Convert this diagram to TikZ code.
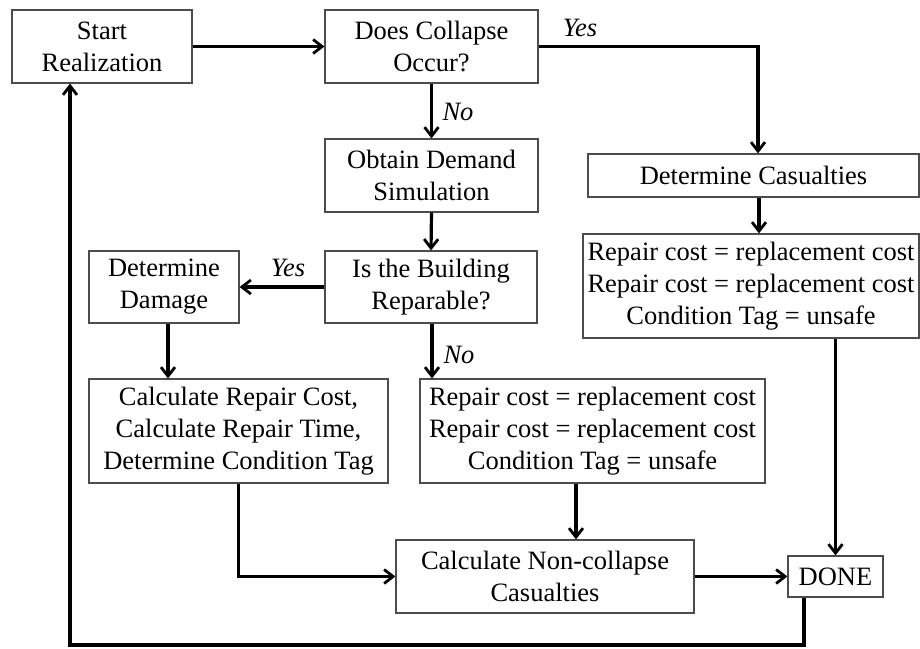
\documentclass[tikz,border=0pt]{standalone}
\usepackage{fontspec}
\setmainfont{Liberation Serif}
\usetikzlibrary{arrows.meta}
\begin{document}
\begin{tikzpicture}[x=1pt,y=-1pt,
  box/.style={draw=black!70,line width=1.2pt,rectangle,inner sep=0pt,align=center,
    font=\fontsize{26.5}{32}\selectfont},
  lbl/.style={font=\fontsize{26.5}{32}\selectfont\itshape,inner sep=0pt},
  arr/.style={line width=3.2pt,-{Straight Barb[length=9pt,width=14pt,line width=2.8pt]}}]
\useasboundingbox (0,0) rectangle (920,648);
\fill[white] (0,0) rectangle (920,648);
\node[box,minimum width=180pt,minimum height=73pt] (start) at (102,46.5) {Start\\Realization};
\node[box,minimum width=213pt,minimum height=73pt] (does) at (431.5,46.5) {Does Collapse\\Occur?};
\node[box,minimum width=213pt,minimum height=73pt] (obtain) at (431.5,175.5) {Obtain Demand\\Simulation};
\node[box,minimum width=212pt,minimum height=72pt] (isb) at (431,287) {Is the Building\\Reparable?};
\node[box,minimum width=150pt,minimum height=72pt] (dam) at (164,287) {Determine\\Damage};
\node[box,minimum width=299pt,minimum height=104pt] (calc) at (238.5,431) {Calculate Repair Cost,\\Calculate Repair Time,\\Determine Condition Tag};
\node[box,minimum width=345pt,minimum height=104pt] (repm) at (592.5,431) {Repair cost = replacement cost\\Repair cost = replacement cost\\Condition Tag = unsafe};
\node[box,minimum width=331pt,minimum height=43pt] (detc) at (753.5,175.5) {Determine Casualties};
\node[box,minimum width=336pt,minimum height=104pt] (repr) at (751,286) {Repair cost = replacement cost\\Repair cost = replacement cost\\Condition Tag = unsafe};
\node[box,minimum width=298pt,minimum height=73pt] (noncol) at (545,576.5) {Calculate Non-collapse\\Casualties};
\node[box,minimum width=95pt,minimum height=41pt] (done) at (835.5,576.5) {DONE};
\node[lbl] (yes1) at (580,28) {Yes};
\node[lbl] (no1) at (458,112) {No};
\node[lbl] (yes2) at (288,268) {Yes};
\node[lbl] (no2) at (459,355) {No};
\coordinate (c1) at (758,46.5);
\coordinate (c2) at (759,0);
\coordinate (c3) at (576,0);
\coordinate (loopR) at (804,645);
\coordinate (loopL) at (70,645);
\draw[arr] (start.east) -- (does.west);
\draw[arr] (does.east) -- (c1) -- (c1 |- detc.north);
\draw[arr] (does.south) -- (obtain.north);
\draw[arr] (obtain.south) -- (isb.north);
\draw[arr] (isb.west) -- (dam.east);
\draw[arr] ([xshift=1pt]isb.south) -- ([xshift=1pt]isb.south |- repm.north);
\draw[arr] ([xshift=4pt]dam.south) -- ([xshift=4pt]dam.south |- calc.north);
\draw[arr] (c2 |- detc.south) -- (c2 |- repr.north);
\draw[arr] (done.north |- repr.south) -- (done.north);
\draw[arr] (c3 |- repm.south) -- (c3 |- noncol.north);
\draw[arr] (calc.south) |- (noncol.west);
\draw[arr] (noncol.east) -- (done.west);
\draw[arr] (loopR |- done.south) -- (loopR) -- (loopL) -- (loopL |- start.south);
\end{tikzpicture}
\end{document}
